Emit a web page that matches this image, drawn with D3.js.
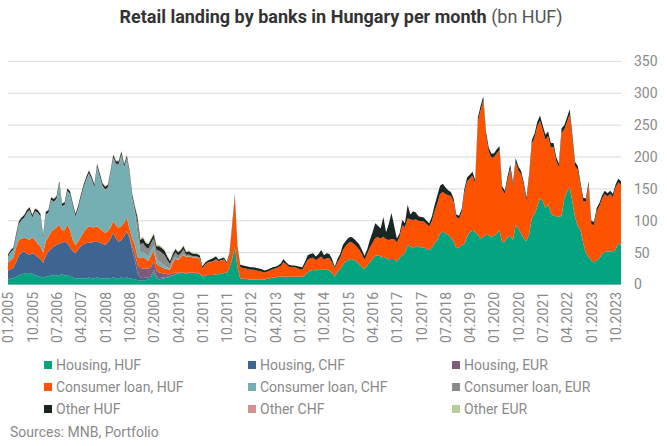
<!DOCTYPE html>
<html>
<head>
<meta charset="utf-8">
<script src="https://cdn.jsdelivr.net/npm/d3@7"></script>
<style>
  body { margin: 0; background: #fff; }
  text { font-family: Roboto, "Noto Sans", sans-serif; }
</style>
</head>
<body>
<div id="chart"></div>
<script>
// years covered, one row of 12 monthly values per year in every series
const years = [2005, 2006, 2007, 2008, 2009, 2010, 2011, 2012, 2013, 2014,
               2015, 2016, 2017, 2018, 2019, 2020, 2021, 2022, 2023];

const tickLabels = ["01.2005", "10.2005", "07.2006", "04.2007", "01.2008", "10.2008",
  "07.2009", "04.2010", "01.2011", "10.2011", "07.2012", "04.2013", "01.2014",
  "10.2014", "07.2015", "04.2016", "01.2017", "10.2017", "07.2018", "04.2019",
  "01.2020", "10.2020", "07.2021", "04.2022", "01.2023", "10.2023"];

const yTicks = [0, 50, 100, 150, 200, 250, 300, 350];

const zeros = [0, 0, 0, 0, 0, 0, 0, 0, 0, 0, 0, 0];

const housingHUF = [
  [8, 9, 10, 12, 14, 16, 17, 18, 18, 17, 15, 13],
  [12, 11, 12, 13, 14, 15, 14, 15, 16, 14, 15, 13],
  [11, 10, 10, 10, 10, 10, 11, 10, 10, 11, 10, 10],
  [9, 10, 10, 11, 10, 10, 11, 10, 11, 10, 9, 8],
  [7, 6, 6, 7, 8, 11, 20, 10, 8, 9, 10, 11],
  [12, 14, 16, 17, 18, 18, 17, 18, 18, 18, 18, 17],
  [12, 14, 15, 15, 15, 16, 16, 17, 18, 19, 25, 40],
  [59, 26, 10, 9, 9, 8, 8, 8, 8, 8, 8, 8],
  [9, 10, 11, 11, 12, 12, 13, 12, 12, 12, 12, 12],
  [12, 12, 15, 19, 21, 23, 22, 23, 23, 23, 23, 22],
  [18, 12, 20, 24, 31, 36, 38, 40, 39, 36, 32, 28],
  [24, 30, 35, 40, 45, 46, 44, 43, 41, 40, 40, 40],
  [36, 42, 46, 50, 62, 60, 58, 60, 60, 58, 58, 56],
  [54, 58, 65, 70, 80, 83, 80, 78, 73, 68, 57, 58],
  [62, 64, 75, 82, 86, 82, 78, 72, 74, 79, 77, 75],
  [77, 80, 85, 66, 68, 74, 77, 70, 94, 88, 80, 72],
  [68, 80, 104, 111, 122, 136, 131, 120, 126, 112, 108, 107],
  [106, 108, 135, 145, 153, 130, 105, 92, 85, 65, 50, 43],
  [38, 35, 38, 41, 48, 51, 52, 52, 52, 55, 65, 62]
].flat();

const housingCHF = [
  [14, 15, 16, 23, 31, 34, 35, 30, 29, 32, 32, 30],
  [28, 23, 33, 39, 42, 45, 48, 49, 50, 53, 50, 45],
  [41, 39, 45, 50, 53, 55, 55, 56, 57, 56, 56, 54],
  [53, 56, 62, 70, 62, 57, 59, 66, 72, 63, 45, 30],
  [10, 5, 4, 4, 3, 3, 3, 2, 2, 2, 1, 1],
  [1, 1, 0.5, 0.5, 0.3, 0.3, 0.2, 0.2, 0.2, 0.2, 0.2, 0.2],
  zeros, zeros, zeros, zeros, zeros, zeros, zeros,
  zeros, zeros, zeros, zeros, zeros, zeros
].flat();

const housingEUR = [
  zeros, zeros, zeros,
  [0, 0, 0, 0, 0, 0, 0, 0, 0, 2, 5, 10],
  [14, 15, 15, 14, 14, 14, 14, 10, 9, 7, 6, 4],
  [3, 3, 2, 1, 1, 1, 0.5, 0.5, 0.5, 0.3, 0.3, 0.3],
  zeros, zeros, zeros, zeros, zeros, zeros, zeros,
  zeros, zeros, zeros, zeros, zeros, zeros
].flat();

const consumerHUF = [
  [13, 14, 16, 23, 25, 22, 21, 24, 23, 25, 23, 21],
  [20, 16, 23, 23, 27, 26, 28, 30, 19, 18, 29, 27],
  [18, 13, 13, 15, 19, 23, 25, 24, 23, 24, 22, 20],
  [19, 18, 18, 19, 20, 22, 22, 21, 22, 12, 13, 14],
  [12, 15, 18, 15, 12, 18, 16, 11, 10, 9, 8, 8],
  [7, 16, 22, 20, 24, 27, 25, 25, 24, 24, 24, 23],
  [13, 17, 19, 20, 21, 23, 20, 21, 21, 14, 21, 50],
  [79, 31, 17, 17, 16, 16, 15, 15, 14, 13, 12, 11],
  [11, 12, 13, 14, 15, 17, 22, 20, 16, 15, 15, 14],
  [12, 11, 16, 20, 20, 19, 16, 18, 21, 16, 18, 19],
  [17, 13, 15, 18, 23, 24, 27, 27, 25, 24, 23, 20],
  [15, 18, 23, 25, 28, 28, 28, 32, 30, 30, 31, 31],
  [30, 33, 47, 40, 42, 42, 43, 42, 40, 41, 41, 39],
  [37, 42, 50, 58, 62, 62, 62, 62, 66, 62, 49, 45],
  [51, 80, 87, 84, 85, 77, 178, 201, 215, 155, 132, 124],
  [123, 126, 126, 83, 74, 90, 105, 85, 98, 91, 93, 83],
  [63, 90, 117, 120, 126, 121, 112, 107, 107, 103, 108, 87],
  [78, 130, 108, 110, 114, 98, 81, 88, 70, 66, 80, 114],
  [57, 58, 77, 82, 87, 91, 86, 90, 85, 97, 95, 95]
].flat();

const consumerCHF = [
  [8.5, 12.5, 12.5, 16.5, 24.5, 28.5, 31.5, 40.5, 46.5, 30.5, 44.5, 48.5],
  [46, 22, 41, 37, 49, 43, 44, 63, 37, 39, 52, 56],
  [52, 44, 51, 61, 70, 76, 83, 74, 62, 93, 81, 70],
  [66.5, 66.5, 82.5, 97.5, 95.5, 98.5, 110.5, 85.5, 91.5, 86, 62, 50],
  [35, 10, 8, 7, 7, 7, 8, 7, 7, 6, 5, 3],
  [2, 2, 2, 1, 1, 1, 1, 0.5, 0.5, 0.3, 0.3, 0.3],
  zeros, zeros, zeros, zeros, zeros, zeros, zeros,
  zeros, zeros, zeros, zeros, zeros, zeros
].flat();

const consumerEUR = [
  [0.5, 0.5, 0.5, 0.5, 0.5, 0.5, 0.5, 0.5, 0.5, 0.5, 0.5, 0.5],
  [1, 1, 1, 1, 1, 1, 1, 1, 1, 1, 1, 1],
  [1, 1, 1, 1, 1, 1, 1, 1, 1, 1, 1, 1],
  [2, 2, 2, 2, 2, 2, 2, 2, 2, 2, 3, 5],
  [20, 12, 14, 12, 12, 12, 12, 14, 17, 17, 16, 11],
  [7, 7, 8, 6, 5, 8, 3, 3, 2, 1.5, 1, 1],
  [0.5, 0.5, 0.5, 0.5, 0.5, 0.5, 0.3, 0.3, 0.3, 0.3, 0.3, 0.3],
  zeros, zeros, zeros, zeros, zeros, zeros,
  zeros, zeros, zeros, zeros, zeros, zeros
].flat();

const otherHUF = [
  [3, 3, 3, 4, 4, 4, 4, 4, 4, 4, 4, 4],
  [4, 4, 4, 4, 4, 4, 4, 4, 4, 4, 4, 4],
  [4, 4, 4, 4, 4, 4, 4, 4, 4, 4, 4, 4],
  [4, 4, 4, 4, 4, 4, 4, 4, 4, 4, 5, 5],
  [7, 7, 8, 6, 7, 6, 6, 6, 7, 7, 7, 6],
  [5, 5, 5, 5, 5, 5, 4, 5, 4, 4, 4, 4],
  [3, 3, 3, 4, 5, 5, 3, 3, 3, 2, 3, 4],
  [3, 3, 4, 4, 4, 4, 4, 4, 4, 4, 4, 3],
  [3, 3, 3, 3, 3, 4, 5, 3, 3, 3, 3, 3],
  [4, 4, 5, 7, 7, 7, 6, 7, 10, 7, 8, 7],
  [5, 3, 5, 6, 8, 8, 8, 8, 8, 8, 8, 7],
  [6, 7, 12, 17, 23, 18, 16, 31, 11, 25, 41, 21],
  [6, 5, 8, 6, 21, 8, 14, 11, 7, 7, 6, 5],
  [5, 7, 10, 12, 13, 13, 10, 8, 6, 5, 4, 5],
  [5, 6, 6, 6, 6, 5, 6, 7, 6, 6, 6, 6],
  [6, 6, 6, 5, 5, 6, 6, 5, 6, 6, 5, 5],
  [5, 5, 6, 6, 7, 8, 7, 8, 7, 7, 6, 6],
  [6, 7, 7, 7, 8, 7, 6, 6, 5, 5, 5, 5],
  [5, 5, 5, 5, 5, 5, 5, 5, 5, 5, 6, 5]
].flat();

const otherCHF = [
  [0.5, 0.5, 0.5, 0.5, 0.5, 0.5, 0.5, 0.5, 0.5, 0.5, 0.5, 0.5],
  [0.5, 0.5, 0.5, 0.5, 0.5, 0.5, 0.5, 0.5, 0.5, 0.5, 0.5, 0.5],
  [0.5, 0.5, 0.5, 0.5, 0.5, 0.5, 0.5, 0.5, 0.5, 0.5, 0.5, 0.5],
  [0.5, 0.5, 0.5, 0.5, 0.5, 0.5, 0.5, 0.5, 0.5, 0.5, 0.5, 0.5],
  [0.3, 0.3, 0.3, 0.3, 0.3, 0.3, 0.3, 0.3, 0.3, 0.3, 0.3, 0.3],
  [0.2, 0.2, 0.2, 0.2, 0.2, 0.2, 0.2, 0.2, 0.2, 0.2, 0.2, 0.2],
  zeros, zeros, zeros, zeros, zeros, zeros, zeros,
  zeros, zeros, zeros, zeros, zeros, zeros
].flat();

const otherEUR = [
  [0.5, 0.5, 0.5, 0.5, 0.5, 0.5, 0.5, 0.5, 0.5, 0.5, 0.5, 0.5],
  [0.5, 0.5, 0.5, 0.5, 0.5, 0.5, 0.5, 0.5, 0.5, 0.5, 0.5, 0.5],
  [0.5, 0.5, 0.5, 0.5, 0.5, 0.5, 0.5, 0.5, 0.5, 0.5, 0.5, 0.5],
  [1, 1, 1, 1, 1, 1, 1, 1, 1, 1, 1.5, 2],
  [2, 2, 2, 2, 2, 2, 2, 2, 2, 2, 2, 2],
  [1.5, 1.5, 1.5, 1.5, 1.5, 1.5, 1.5, 1.5, 1.5, 1.5, 1.5, 1.5],
  [0.5, 0.5, 0.5, 0.5, 0.5, 0.5, 0.5, 0.5, 0.5, 0.5, 0.5, 0.5],
  zeros, zeros, zeros, zeros, zeros, zeros,
  zeros, zeros, zeros, zeros, zeros, zeros
].flat();

const seriesNames = ["Housing, HUF", "Housing, CHF", "Housing, EUR",
  "Consumer loan, HUF", "Consumer loan, CHF", "Consumer loan, EUR",
  "Other HUF", "Other CHF", "Other EUR"];
const seriesValues = [housingHUF, housingCHF, housingEUR,
  consumerHUF, consumerCHF, consumerEUR, otherHUF, otherCHF, otherEUR];
const seriesColors = ["#03a47f", "#3c6591", "#7e5a7b", "#fd5200", "#75afb3",
  "#8b8b8b", "#1b2522", "#d4918d", "#b7d09b"];

// chart geometry
var width = 667,
    height = 446,
    left = 8,
    right = 621;

var svg = d3.select("#chart")
    .append("svg")
    .attr("width", width)
    .attr("height", height);

// one row per month: {i: month index, "Housing, HUF": value, ...}
let months = [];
years.forEach(function (yr, yi) {
    for (let m = 0; m < 12; m++) {
        let idx = yi * 12 + m;
        let row = { i: idx, label: String(m + 1).padStart(2, "0") + "." + yr };
        seriesNames.forEach(function (name, s) {
            row[name] = seriesValues[s][idx];
        });
        months.push(row);
    }
});

let x = d3.scaleLinear()
    .domain([0, months.length - 1])
    .range([left, right]);

let y = d3.scaleLinear()
    .domain([0, 350])
    .range([284.5, 61.4]);

// gridlines
svg.append("g")
    .selectAll("line")
    .data(yTicks)
    .join("line")
    .attr("x1", left)
    .attr("x2", right)
    .attr("y1", d => y(d))
    .attr("y2", d => y(d))
    .attr("stroke", "#d9d9d9")
    .attr("stroke-width", 1);

// stacked areas
let stacked = d3.stack().keys(seriesNames)(months);

let area = d3.area()
    .x(d => x(d.data.i))
    .y0(d => y(d[0]))
    .y1(d => y(d[1]));

svg.append("g")
    .selectAll("path")
    .data(stacked)
    .join("path")
    .attr("d", area)
    .attr("fill", (d, i) => seriesColors[i]);

// y axis on the right
let yAxis = d3.axisRight(y)
    .tickValues(yTicks)
    .tickSize(0)
    .tickPadding(0);

svg.append("g")
    .attr("transform", "translate(634,0)")
    .call(yAxis)
    .call(g => g.select(".domain").remove())
    .selectAll("text")
    .attr("font-size", 14)
    .attr("fill", "#8a8a8a")
    .attr("font-family", "Roboto, sans-serif");

// x axis, labels rotated
let byLabel = new Map(months.map(d => [d.label, d.i]));

let xAxis = d3.axisBottom(x)
    .tickValues(tickLabels.map(t => byLabel.get(t)))
    .tickFormat(i => months[i].label)
    .tickSize(0)
    .tickPadding(0);

svg.append("g")
    .attr("transform", "translate(0,292)")
    .call(xAxis)
    .call(g => g.select(".domain").remove())
    .selectAll("text")
    .attr("font-size", 14)
    .attr("fill", "#8a8a8a")
    .attr("font-family", "Roboto, sans-serif")
    .attr("text-anchor", "end")
    .attr("transform", "rotate(-90)")
    .attr("x", 0)
    .attr("y", 0)
    .attr("dy", "0.35em");

// title
let title = svg.append("text")
    .attr("x", 341)
    .attr("y", 23)
    .attr("text-anchor", "middle")
    .attr("font-size", 18)
    .attr("fill", "#333333");
title.append("tspan")
    .attr("font-weight", "bold")
    .text("Retail landing by banks in Hungary per month");
title.append("tspan")
    .attr("fill", "#555555")
    .text(" (bn HUF)");

// legend 3 x 3
let legendX = [44, 248, 452],
    legendY = [365, 387, 409];

let legend = svg.append("g")
    .selectAll("g")
    .data(seriesNames)
    .join("g")
    .attr("transform", (d, i) => "translate(" + legendX[i % 3] + "," + legendY[Math.floor(i / 3)] + ")");

legend.append("rect")
    .attr("x", 0)
    .attr("y", -4)
    .attr("width", 8)
    .attr("height", 8)
    .attr("fill", (d, i) => seriesColors[i]);

legend.append("text")
    .attr("x", 12)
    .attr("y", 0)
    .attr("dy", "0.35em")
    .attr("font-size", 14)
    .attr("fill", "#8a8a8a")
    .text(d => d);

svg.append("text")
    .attr("x", 10)
    .attr("y", 432)
    .attr("dy", "0.35em")
    .attr("font-size", 14)
    .attr("fill", "#8a8a8a")
    .text("Sources: MNB, Portfolio");
</script>
</body>
</html>
